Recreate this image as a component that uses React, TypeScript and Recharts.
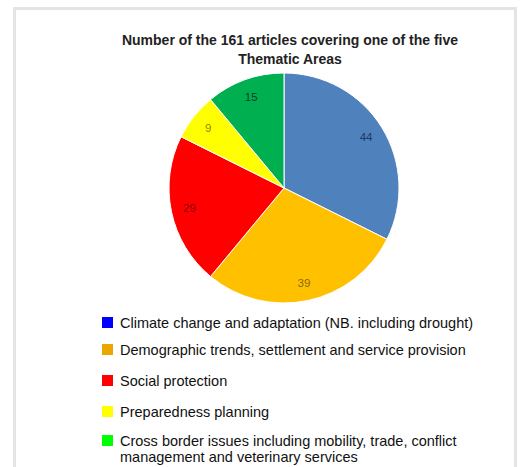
import { Pie, PieChart, Cell } from "recharts";

const areas = [
  "Climate change and adaptation (NB. including drought)",
  "Demographic trends, settlement and service provision",
  "Social protection",
  "Preparedness planning",
  "Cross border issues including mobility, trade, conflict management and veterinary services",
];
const articles = [44, 39, 29, 9, 15];
const sliceColors = ["#4f81bd", "#ffc000", "#ff0000", "#ffff00", "#00b050"];
const labelColors = ["#1f3864", "#8a6a10", "#8b0000", "#8a8a00", "#0b3d1f"];
const legendColors = ["#0000ff", "#eba600", "#ff0000", "#ffff00", "#00ff00"];
const legendGaps = [0, 11, 15, 15, 13];

const data = areas.map((name, i) => ({ name, value: articles[i] }));

const RAD = Math.PI / 180;

function SliceLabel(props: any) {
  const { cx, cy, midAngle, outerRadius, value, index } = props;
  const r = outerRadius * 0.84;
  const x = cx + r * Math.cos(-midAngle * RAD);
  const y = cy + r * Math.sin(-midAngle * RAD);
  return (
    <text
      x={x}
      y={y}
      fill={labelColors[index]}
      textAnchor="middle"
      dominantBaseline="central"
      fontSize={11.5}
      fontFamily="Liberation Sans, Arial, sans-serif"
    >
      {value}
    </text>
  );
}

function AreaLegend() {
  return (
    <div
      style={{
        position: "absolute",
        left: 102,
        top: 315,
        width: 410,
        fontFamily: "Liberation Sans, Arial, sans-serif",
        fontSize: 14.5,
        color: "#111",
      }}
    >
      {areas.map((a, i) => (
        <div key={i} style={{ display: "flex", alignItems: "flex-start", marginTop: legendGaps[i], lineHeight: "16px" }}>
          <span
            style={{
              width: 11,
              height: 11,
              background: legendColors[i],
              marginTop: 2,
              marginRight: 7,
              flexShrink: 0,
            }}
          />
          <span style={{ width: 375 }}>{a}</span>
        </div>
      ))}
    </div>
  );
}

export default function App() {
  return (
    <div style={{ position: "absolute", left: 0, top: 0, width: 524, height: 467, background: "#fff", overflow: "hidden" }}>
      <div
        style={{
          position: "absolute",
          left: 13,
          top: 7,
          width: 504,
          height: 480,
          border: "3px solid #e4e4e4",
          boxSizing: "border-box",
        }}
      />
      <div
        style={{
          position: "absolute",
          left: 32,
          top: 31,
          width: 516,
          textAlign: "center",
          fontFamily: "Liberation Sans, Arial, sans-serif",
          fontWeight: "bold",
          fontSize: 14,
          lineHeight: "19px",
          color: "#222",
        }}
      >
        Number of the 161 articles covering one of the five
        <br />
        Thematic Areas
      </div>
      <div style={{ position: "absolute", left: 0, top: 0, width: 524, height: 467 }}>
        <PieChart width={524} height={467} margin={{ top: 0, right: 0, bottom: 0, left: 0 }}>
          <Pie
            data={data}
            dataKey="value"
            nameKey="name"
            cx={284}
            cy={188}
            outerRadius={115}
            startAngle={90}
            endAngle={-270}
            stroke="#ffffff"
            strokeWidth={1}
            label={SliceLabel}
            labelLine={false}
            isAnimationActive={false}
          >
            {data.map((d, i) => (
              <Cell key={i} fill={sliceColors[i]} />
            ))}
          </Pie>
        </PieChart>
      </div>
      <AreaLegend />
    </div>
  );
}
